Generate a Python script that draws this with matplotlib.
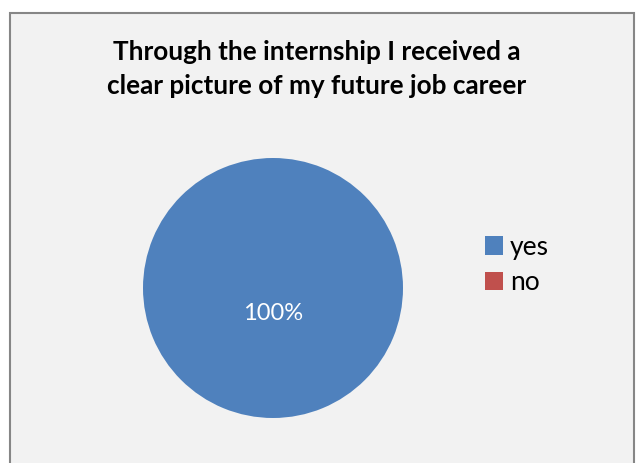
import matplotlib.pyplot as plt
from matplotlib.patches import Rectangle

# данные
labels = ['yes', 'no']
values = [100, 0]
colors = ['#4f81bd', '#c0504d']
title = 'Through the internship I received a\nclear picture of my future job career'

W, H = 638, 463
fig = plt.figure(figsize=(W / 100, H / 100), dpi=100)
fig.patch.set_facecolor('white')

# рамка области диаграммы
fig.patches.append(Rectangle((10 / W, -0.05), 624 / W, 1.05 - 13 / H,
                             transform=fig.transFigure, facecolor='#f2f2f2',
                             edgecolor='#868686', linewidth=1.5, zorder=-5))

fig.text(317 / W, 1 - 69 / H, title, ha='center', va='center',
         fontsize=18.8, fontweight='bold', family='Lato', linespacing=1.45)

ax = fig.add_axes([143 / W, 45 / H, 260 / W, 260 / H])
ax.set_facecolor('none')


def pct(p):
    return f'{p:.0f}%' if p > 0 else ''


wedges, texts, autotexts = ax.pie(values, colors=colors, startangle=90, counterclock=False,
                                  autopct=pct, pctdistance=0.2, radius=1,
                                  textprops={'color': 'white', 'fontsize': 17, 'family': 'Lato'})
ax.set_xlim(-1, 1)
ax.set_ylim(-1, 1)
ax.set_aspect('equal')
ax.axis('off')

fig.legend(wedges, labels, loc='upper left', bbox_to_anchor=(461 / W, 1 - 211 / H),
           frameon=False, handlelength=0.7, handleheight=0.7, handletextpad=0.25,
           labelspacing=0.4, prop={'family': 'Lato', 'size': 19})

fig.savefig('out.png', dpi=100)
